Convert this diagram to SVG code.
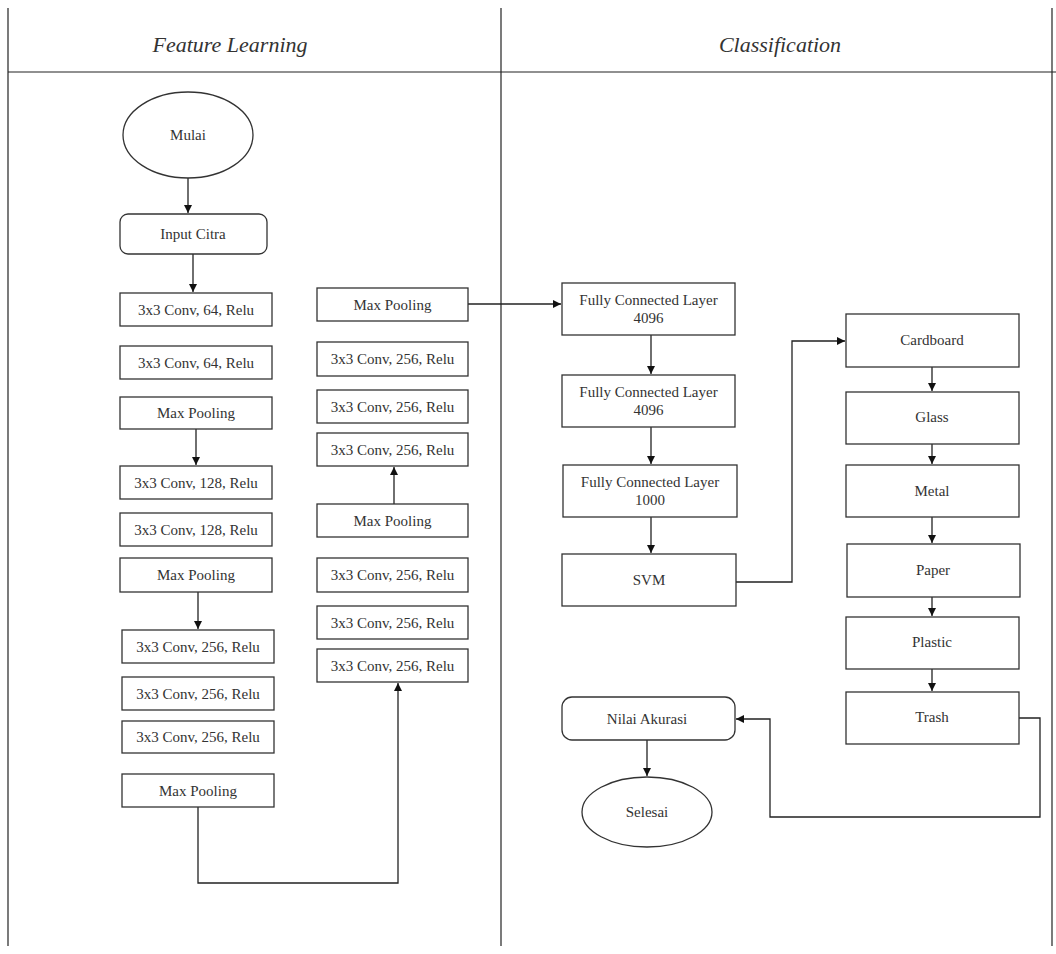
<svg xmlns="http://www.w3.org/2000/svg" width="1056" height="954" viewBox="0 0 1056 954">
<style>
.b{fill:#fff;stroke:#333;stroke-width:1.3}
.t{font-family:"Liberation Serif","Times New Roman",serif;font-size:15px;fill:#333;text-anchor:middle;dominant-baseline:central}
.h{font-family:"Liberation Serif","Times New Roman",serif;font-size:22px;font-style:italic;fill:#333;text-anchor:middle}
.c{fill:none;stroke:#222;stroke-width:1.3}
.f{fill:none;stroke:#222;stroke-width:1.2}
</style>
<defs>
<marker id="a" markerWidth="10" markerHeight="10" refX="9" refY="5" orient="auto" markerUnits="userSpaceOnUse">
<path d="M1,1 L9,5 L1,9 Z" fill="#111"/>
</marker>
</defs>
<rect width="1056" height="954" fill="#fff"/>
<g id="frame">
<line class="f" x1="8" y1="8" x2="8" y2="946"/>
<line class="f" x1="501" y1="8" x2="501" y2="946"/>
<line class="f" x1="1052" y1="8" x2="1052" y2="946"/>
<line class="f" x1="8" y1="72" x2="1056" y2="72"/>
<text class="h" x="230" y="52">Feature Learning</text>
<text class="h" x="780" y="52">Classification</text>
</g>
<g id="connectors">
<path class="c" d="M188,178 V213" marker-end="url(#a)"/>
<path class="c" d="M193,254 V292" marker-end="url(#a)"/>
<path class="c" d="M196,429 V465" marker-end="url(#a)"/>
<path class="c" d="M198,592 V629" marker-end="url(#a)"/>
<path class="c" d="M198,807 V883 H398 V683" marker-end="url(#a)"/>
<path class="c" d="M394,504 V467" marker-end="url(#a)"/>
<path class="c" d="M468,304 H561" marker-end="url(#a)"/>
<path class="c" d="M651,335 V374" marker-end="url(#a)"/>
<path class="c" d="M651,427 V464" marker-end="url(#a)"/>
<path class="c" d="M651,517 V553" marker-end="url(#a)"/>
<path class="c" d="M736,582 H792 V341 H845" marker-end="url(#a)"/>
<path class="c" d="M932,367 V391" marker-end="url(#a)"/>
<path class="c" d="M932,444 V464" marker-end="url(#a)"/>
<path class="c" d="M932,517 V543" marker-end="url(#a)"/>
<path class="c" d="M932,597 V616" marker-end="url(#a)"/>
<path class="c" d="M932,669 V691" marker-end="url(#a)"/>
<path class="c" d="M1019,718 H1040 V817 H770 V719 H736" marker-end="url(#a)"/>
<path class="c" d="M647,740 V776" marker-end="url(#a)"/>
</g>
<g id="mulai"><ellipse class="b" cx="188" cy="135" rx="65" ry="43"/><text class="t" x="188" y="135">Mulai</text></g>
<g id="input"><rect class="b" x="120" y="214" width="147" height="40" rx="8"/><text class="t" x="193" y="234">Input Citra</text></g>
<g id="l1"><rect class="b" x="120" y="293" width="152" height="33"/><text class="t" x="196" y="309.5">3x3 Conv, 64, Relu</text></g>
<g id="l2"><rect class="b" x="120" y="346" width="152" height="33"/><text class="t" x="196" y="362.5">3x3 Conv, 64, Relu</text></g>
<g id="l3"><rect class="b" x="120" y="397" width="152" height="32"/><text class="t" x="196" y="413">Max Pooling</text></g>
<g id="l4"><rect class="b" x="120" y="466" width="152" height="33"/><text class="t" x="196" y="482.5">3x3 Conv, 128, Relu</text></g>
<g id="l5"><rect class="b" x="120" y="513" width="152" height="33"/><text class="t" x="196" y="529.5">3x3 Conv, 128, Relu</text></g>
<g id="l6"><rect class="b" x="120" y="558" width="152" height="34"/><text class="t" x="196" y="575">Max Pooling</text></g>
<g id="l7"><rect class="b" x="122" y="630" width="152" height="33"/><text class="t" x="198" y="646.5">3x3 Conv, 256, Relu</text></g>
<g id="l8"><rect class="b" x="122" y="677" width="152" height="33"/><text class="t" x="198" y="693.5">3x3 Conv, 256, Relu</text></g>
<g id="l9"><rect class="b" x="122" y="721" width="152" height="32"/><text class="t" x="198" y="737">3x3 Conv, 256, Relu</text></g>
<g id="l10"><rect class="b" x="122" y="774" width="152" height="33"/><text class="t" x="198" y="790.5">Max Pooling</text></g>
<g id="r1"><rect class="b" x="317" y="649" width="151" height="33"/><text class="t" x="392.5" y="665.5">3x3 Conv, 256, Relu</text></g>
<g id="r2"><rect class="b" x="317" y="606" width="151" height="33"/><text class="t" x="392.5" y="622.5">3x3 Conv, 256, Relu</text></g>
<g id="r3"><rect class="b" x="317" y="558" width="151" height="34"/><text class="t" x="392.5" y="575">3x3 Conv, 256, Relu</text></g>
<g id="r4"><rect class="b" x="317" y="504" width="151" height="33"/><text class="t" x="392.5" y="520.5">Max Pooling</text></g>
<g id="r5"><rect class="b" x="317" y="433" width="151" height="33"/><text class="t" x="392.5" y="449.5">3x3 Conv, 256, Relu</text></g>
<g id="r6"><rect class="b" x="317" y="390" width="151" height="33"/><text class="t" x="392.5" y="406.5">3x3 Conv, 256, Relu</text></g>
<g id="r7"><rect class="b" x="317" y="342" width="151" height="34"/><text class="t" x="392.5" y="359">3x3 Conv, 256, Relu</text></g>
<g id="r8"><rect class="b" x="317" y="288" width="151" height="33"/><text class="t" x="392.5" y="304.5">Max Pooling</text></g>
<g id="fc1"><rect class="b" x="562" y="283" width="173" height="52"/><text class="t" x="648.5" y="300">Fully Connected Layer</text><text class="t" x="648.5" y="318">4096</text></g>
<g id="fc2"><rect class="b" x="562" y="375" width="173" height="52"/><text class="t" x="648.5" y="392">Fully Connected Layer</text><text class="t" x="648.5" y="410">4096</text></g>
<g id="fc3"><rect class="b" x="563" y="465" width="174" height="52"/><text class="t" x="650" y="482">Fully Connected Layer</text><text class="t" x="650" y="500">1000</text></g>
<g id="svm"><rect class="b" x="562" y="554" width="174" height="52"/><text class="t" x="649" y="580">SVM</text></g>
<g id="cardboard"><rect class="b" x="846" y="314" width="173" height="53"/><text class="t" x="932" y="340">Cardboard</text></g>
<g id="glass"><rect class="b" x="846" y="392" width="173" height="52"/><text class="t" x="932" y="417">Glass</text></g>
<g id="metal"><rect class="b" x="846" y="465" width="173" height="52"/><text class="t" x="932" y="491">Metal</text></g>
<g id="paper"><rect class="b" x="847" y="544" width="173" height="53"/><text class="t" x="933" y="570">Paper</text></g>
<g id="plastic"><rect class="b" x="846" y="617" width="173" height="52"/><text class="t" x="932" y="642">Plastic</text></g>
<g id="trash"><rect class="b" x="846" y="692" width="173" height="52"/><text class="t" x="932" y="717">Trash</text></g>
<g id="nilai"><rect class="b" x="562" y="697" width="173" height="43" rx="10"/><text class="t" x="647" y="719">Nilai Akurasi</text></g>
<g id="selesai"><ellipse class="b" cx="647" cy="812" rx="65" ry="35"/><text class="t" x="647" y="812">Selesai</text></g>
</svg>
